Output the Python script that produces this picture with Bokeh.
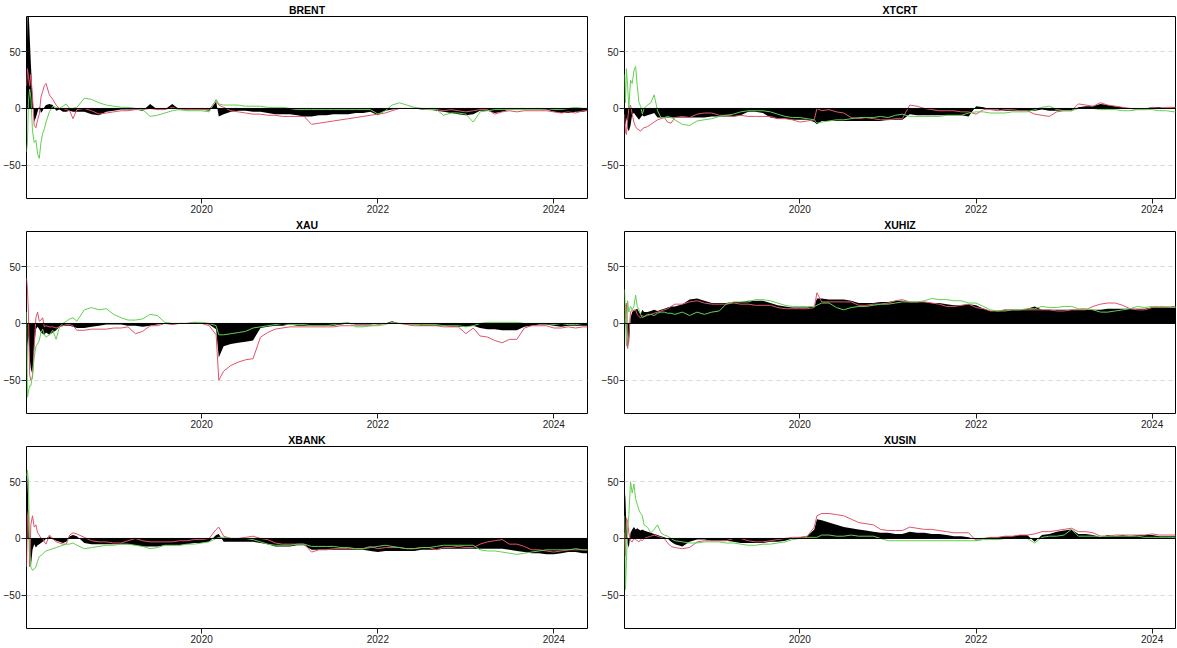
import pandas as pd
from bokeh.plotting import figure
from bokeh.layouts import gridplot
from bokeh.models import FixedTicker, DatetimeTickFormatter, Range1d, Span
from bokeh.embed import file_html
from bokeh.resources import INLINE

dates = [
    "2018-01-04", "2018-01-08", "2018-01-12", "2018-01-17", "2018-01-22", "2018-01-29",
    "2018-02-05", "2018-02-12", "2018-02-19", "2018-02-26", "2018-03-05", "2018-03-12",
    "2018-03-19", "2018-03-26", "2018-04-09", "2018-04-23", "2018-05-07", "2018-05-21",
    "2018-06-04", "2018-06-18", "2018-07-02", "2018-07-16",
    "2018-08-01", "2018-09-01", "2018-10-01", "2018-11-01", "2018-12-01",
    "2019-01-01", "2019-02-01", "2019-03-01", "2019-04-01", "2019-05-01", "2019-06-01",
    "2019-07-01", "2019-08-01", "2019-09-01", "2019-10-01", "2019-11-01", "2019-12-01",
    "2020-01-01", "2020-02-01", "2020-03-01", "2020-03-12", "2020-04-01", "2020-05-01",
    "2020-06-01", "2020-07-01", "2020-08-01", "2020-09-01", "2020-10-01", "2020-11-01",
    "2020-12-01",
    "2021-01-01", "2021-02-01", "2021-03-01", "2021-04-01", "2021-05-01", "2021-06-01",
    "2021-07-01", "2021-08-01", "2021-09-01", "2021-10-01", "2021-11-01", "2021-12-01",
    "2022-01-01", "2022-02-01", "2022-03-01", "2022-04-01", "2022-05-01", "2022-06-01",
    "2022-07-01", "2022-08-01", "2022-09-01", "2022-10-01", "2022-11-01", "2022-12-01",
    "2023-01-01", "2023-02-01", "2023-03-01", "2023-04-01", "2023-05-01", "2023-06-01",
    "2023-07-01", "2023-08-01", "2023-09-01", "2023-10-01", "2023-11-01", "2023-12-01",
    "2024-01-01", "2024-02-01", "2024-03-01", "2024-04-01", "2024-05-01", "2024-05-20",
]

titles = ["BRENT", "XTCRT", "XAU", "XUHIZ", "XBANK", "XUSIN"]
x_ticks = ["2020-01-01", "2022-01-01", "2024-01-01"]
y_ticks = [-50, 0, 50]

brent_net = [30, 85, 90, 65, 40, 10, -12, -8, -3, 2, -4, -2, 1, 3, 4, 3, -2, -1, -3, -3, -2, -3,
             -3, -3, -5, -6, -3,
             -2, -1, -1, -1, -2, 4, -1, -1, 4, -1, -1, -1,
             -1, -2, 6, -7, -5, -3, -2, -2, -3, -3, -4, -5, -5,
             -5, -6, -7, -7, -6, -6, -5, -5, -5, -4, -4, -3,
             -6, -2, -1, 0, 0, 0, -1, -1, -2, -3, -4, -5,
             -6, -5, -2, -2, -4, -3, -1, -1, -1, -1, -1, -1,
             -3, -4, -4, -3, -3, -2]
brent_red = [20, 35, 28, 20, 30, 10, -15, -17, -10, -5, 10, 15, 20, 22, 12, 8, 3, 0, 0, -1, -2, -9,
             -1, 0, -2, -5, -4,
             -3, -2, -2, -1, -1, 0, -1, -1, 1, -1, -1, -1,
             -1, -1, 7, 3, 1, -2, -3, -4, -5, -5, -6, -6, -7,
             -7, -7, -7, -14, -13, -12, -11, -10, -9, -8, -7, -6,
             -5, -4, -2, 0, 0, 0, 0, -1, -1, -2, -1, -2,
             -3, -2, -1, -1, -5, -3, -2, -3, -2, -2, -2, -2,
             -3, -4, -3, -4, -2, -2]
brent_green = [-38, -30, 5, 17, 10, -20, -30, -28, -40, -44, -30, -22, -18, -12, -3, 2, 1, 0, 2, 4, 0, 0,
               1, 9, 8, 5, 3,
               2, 1, 1, 0, -1, -7, -6, -4, -2, -1, -2, -2,
               -2, -3, 8, 4, 3, 3, 3, 2, 2, 2, 1, 1, 1,
               0, -1, -1, -1, -1, -1, -1, -1, -1, -1, -1, -1,
               -5, -2, 3, 5, 3, 1, 0, -1, -1, -6, -4, -4,
               -5, -12, -3, -2, -1, -1, -1, -1, -1, -1, -1, 0,
               -1, -1, 0, 1, 0, 0]

xtcrt_net = [-10, -15, -8, -18, -20, -15, -5, -4, -6, -8, -10, -8, -6, -7, -6, -5, -4, -8, -8, -8, -8, -8,
             -8, -8, -8, -8, -8,
             -7, -7, -7, -7, -6, -3, -3, -4, -8, -9, -9, -10,
             -10, -10, -12, -14, -11, -11, -11, -11, -11, -11, -11, -11, -11,
             -10, -10, -10, -5, -6, -6, -6, -6, -6, -6, -6, -7,
             2, 1, -1, -1, -2, -2, -2, -2, -2, -1, -2, -2,
             -2, -2, 1, 2, 2, 4, 3, 2, 1, 0, 0, 0,
             1, 1, 0, 1, 0, 0]
xtcrt_red = [-5, -20, -23, -10, 0, 3, -5, -12, -16, -18, -19, -20, -18, -17, -16, -14, -12, -10, -9, -8, -12, -13,
             -8, -7, -8, -5, -4,
             -4, -6, -6, -7, -6, -7, -7, -7, -7, -9, -9, -10,
             -12, -11, -10, 0, -2, -1, -3, -4, -8, -9, -8, -9, -10,
             -10, -9, -9, 3, 2, 0, -1, -2, -2, -2, -3, -3,
             -5, -1, -1, -2, -1, -1, -2, -2, -5, -6, -7, -3,
             -2, -2, 4, 3, 2, 5, 3, 2, 1, 0, -1, -1,
             1, 0, 1, 1, 1, 1]
xtcrt_green = [30, 5, 35, 20, 0, 25, 22, 33, 37, 20, 5, 2, -5, 0, 3, 5, 12, -2, -8, -8, -7, -8,
               -10, -14, -15, -11, -10,
               -9, -7, -6, -5, -3, -2, -2, -2, -3, -5, -7, -8,
               -8, -9, -10, -13, -12, -11, -10, -10, -9, -8, -8, -8, -7,
               -8, -6, -5, -7, -7, -7, -7, -7, -6, -6, -6, -4,
               -3, -3, -4, -4, -4, -3, -3, -3, -1, 1, 2, -1,
               -2, -2, 0, 0, 0, -1, -1, -1, -2, -2, -1, -1,
               -1, -2, -2, -3, -3, -3]

xau_net = [-60, -20, -10, -30, -40, -45, -20, -5, -3, -5, -8, -9, -10, -8, -10, -8, -6, -3, -2, -2, -2, -3,
           -4, -4, -3, -2, -1,
           -1, -1, -2, -2, -3, -2, -1, 0, -1, 0, 0, 1,
           0, -1, -5, -30, -20, -18, -17, -16, -15, -4, -3, -2, -2,
           -1, -2, -2, -2, -2, -2, -2, -1, 0, -1, -1, -1,
           0, 0, 2, 0, -1, -1, -2, -2, -2, -2, -3, -3,
           -3, -2, -4, -5, -5, -6, -6, -6, -3, -2, -1, -1,
           -2, -3, -2, -2, -2, -2]
xau_red = [40, 30, 10, -45, -50, -48, -20, 5, 10, 2, 3, 5, -3, -2, -3, -3, -4, -3, -2, -1, -1, -2,
           -6, -6, -5, -5, -5,
           -4, -4, -3, -9, -7, -2, -2, 0, -1, 0, 0, 1,
           0, -2, -10, -50, -42, -37, -34, -32, -31, -12, -8, -5, -4,
           -3, -3, -3, -3, -3, -3, -3, -2, -2, -2, -2, -2,
           -1, 0, 0, 0, -1, -2, -2, -2, -2, -3, -3, -3,
           -9, -4, -11, -12, -15, -17, -14, -14, -4, -2, -2, -2,
           -4, -4, -3, -4, -3, -3]
xau_green = [10, -65, -60, -55, -55, -45, -30, -20, -18, -15, -8, -5, -10, -12, -10, -6, -14, -3, 0, 2, 4, 5,
             2, 12, 14, 12, 13,
             8, 5, 3, 3, 4, 8, 7, 1, 0, 0, 0, 1,
             1, 0, -2, -10, -10, -9, -8, -7, -4, -3, -2, -1, 0,
             -1, -1, -1, -2, -2, -2, -1, 0, 1, -3, -3, -2,
             -2, -1, 1, 0, 0, -1, -1, -1, -1, -2, -2, -2,
             -3, -2, 0, 1, 1, 1, 1, 1, 0, 0, 0, 0,
             -1, 0, -1, -1, 0, 0]

xuhiz_net = [20, 10, -5, -10, -20, 5, 10, 12, 12, 13, 10, 8, 12, 10, 10, 11, 12, 11, 12, 13, 14, 15,
             15, 17, 21, 22, 20,
             18, 18, 18, 19, 19, 20, 20, 20, 18, 16, 15, 14,
             14, 14, 15, 22, 22, 21, 21, 21, 20, 18, 18, 18, 19,
             19, 20, 20, 19, 19, 19, 18, 18, 17, 16, 16, 17,
             16, 13, 11, 11, 12, 12, 12, 13, 15, 12, 12, 12,
             12, 12, 12, 12, 12, 12, 13, 13, 13, 13, 13, 13,
             14, 14, 14, 14, 14, 14]
xuhiz_red = [0, 15, 18, -22, -10, 10, 12, 11, 12, 8, 6, 5, 7, 6, 7, 8, 9, 10, 11, 12, 13, 15,
             17, 17, 19, 20, 18,
             17, 17, 17, 18, 17, 17, 16, 16, 16, 14, 13, 13,
             13, 13, 14, 27, 19, 19, 19, 19, 19, 16, 16, 17, 17,
             18, 20, 21, 19, 19, 19, 18, 17, 15, 15, 16, 17,
             14, 13, 11, 11, 12, 12, 12, 12, 12, 12, 12, 11,
             11, 12, 12, 12, 15, 17, 18, 18, 16, 13, 12, 12,
             14, 14, 14, 15, 14, 14]
xuhiz_green = [30, 5, -20, 20, 10, 15, 12, 15, 25, 15, 12, 8, 5, 6, 8, 8, 7, 9, 10, 10, 9, 9,
               8, 10, 7, 10, 8,
               10, 11, 17, 19, 19, 19, 21, 21, 20, 18, 16, 15,
               15, 15, 15, 16, 18, 18, 14, 12, 14, 15, 15, 16, 17,
               17, 18, 19, 19, 19, 20, 22, 21, 21, 20, 20, 18,
               18, 15, 12, 11, 11, 12, 12, 13, 13, 15, 14, 14,
               15, 15, 13, 13, 12, 10, 10, 11, 12, 13, 15, 14,
               15, 15, 15, 14, 14, 14]

xbank_net = [15, 60, 20, -20, -25, -10, -5, -8, -6, -5, -4, -3, -2, 0, 2, -1, -2, -3, -4, -3, 2, 3,
             2, -4, -5, -5, -5,
             -5, -5, -5, -6, -7, -7, -7, -6, -6, -6, -5, -4,
             -4, -3, 3, 4, -3, -3, -3, -3, -3, -4, -5, -7, -7,
             -7, -6, -6, -10, -10, -10, -10, -10, -10, -10, -10, -11,
             -12, -11, -11, -11, -11, -11, -10, -10, -10, -9, -9, -9,
             -9, -9, -9, -9, -9, -9, -10, -11, -12, -13, -13, -14,
             -14, -13, -12, -12, -13, -13]
xbank_red = [-25, 20, 25, -25, 12, 20, 10, 12, 5, 3, 0, 0, -3, -5, 3, 0, -3, -4, -5, -5, 3, 5,
             4, 1, -2, -3, -3,
             -4, -4, -2, 0, -2, -3, -3, -3, -3, -2, -2, -1,
             -1, 0, 8, 10, 2, 0, 0, 1, 2, 0, -1, -4, -5,
             -5, -5, -5, -12, -10, -10, -9, -9, -9, -9, -9, -7,
             -9, -8, -8, -8, -9, -9, -8, -8, -10, -8, -8, -7,
             -8, -8, -5, -3, -2, -1, -5, -5, -7, -10, -10, -11,
             -12, -11, -10, -10, -10, -10]
xbank_green = [55, 60, 50, -10, -25, -28, -27, -25, -20, -16, -15, -14, -12, -11, -10, -9, -8, -7, -6, -5, -5, -4,
               -6, -9, -8, -7, -6,
               -6, -5, -5, -6, -7, -9, -8, -6, -6, -6, -5, -5,
               -4, -3, 0, 1, 1, 0, 0, 0, -1, -3, -5, -6, -6,
               -6, -5, -5, -7, -7, -7, -7, -8, -8, -9, -9, -8,
               -7, -6, -7, -8, -9, -9, -8, -8, -7, -6, -6, -6,
               -6, -6, -10, -11, -11, -12, -13, -14, -13, -12, -11, -10,
               -10, -10, -10, -9, -10, -10]

xusin_net = [45, 35, 10, -5, -8, 5, 8, 10, 8, 9, 8, 7, 8, 7, 6, 5, 4, 3, 2, 1, 0, -3,
             -5, -7, -3, -1, -1,
             -2, -2, -2, -3, -4, -4, -4, -4, -3, -3, -2, 0,
             1, 2, 8, 17, 16, 14, 12, 10, 9, 8, 7, 6, 5,
             5, 4, 4, 6, 5, 5, 4, 4, 3, 2, 2, 1,
             -1, 0, 1, 1, 2, 2, 3, 3, -3, 3, 4, 6,
             7, 8, 4, 4, 3, 1, 3, 2, 3, 2, 3, 3,
             3, 2, 2, 2, 2, 2]
xusin_red = [5, -15, 18, 15, 5, -2, -3, 0, -1, -2, -3, -1, -2, 0, 1, 2, 3, 2, 1, 0, -4, -7,
             -8, -9, -8, -3, -2,
             -2, -2, -2, 0, 0, -2, -3, -3, -2, -1, 0, 1,
             1, 2, 10, 20, 22, 22, 21, 20, 17, 14, 13, 12, 8,
             7, 7, 7, 10, 9, 8, 8, 7, 6, 5, 5, 5,
             -2, 0, 1, 1, 2, 2, 3, 3, 4, 6, 6, 7,
             8, 9, 6, 6, 5, 2, 2, 3, 3, 3, 3, 3,
             4, 3, 3, 3, 3, 3]
xusin_green = [20, -45, -20, 10, 20, 50, 40, 48, 35, 30, 25, 22, 20, 12, 10, 5, 8, 12, 5, 3, 2, 0,
               -2, -3, -4, -4, -3,
               -3, -3, -4, -4, -5, -6, -6, -5, -5, -4, -3, -1,
               0, 1, 1, 1, 3, 3, 2, 2, 3, 2, 2, 2, 0,
               -2, -2, -2, -2, -2, -2, -2, -2, -2, -2, -2, -2,
               -2, -1, -1, -1, 0, 0, 0, 0, -4, 1, 2, 2,
               3, 8, 2, 2, 2, 2, 2, 2, 2, 2, 2, 1,
               1, 1, 1, 1, 1, 1]

panels = [
    (titles[0], brent_net, brent_red, brent_green),
    (titles[1], xtcrt_net, xtcrt_red, xtcrt_green),
    (titles[2], xau_net, xau_red, xau_green),
    (titles[3], xuhiz_net, xuhiz_red, xuhiz_green),
    (titles[4], xbank_net, xbank_red, xbank_green),
    (titles[5], xusin_net, xusin_red, xusin_green),
]
for t, a, b, c in panels:
    for arr in (a, b, c):
        if len(arr) != len(dates):
            raise ValueError(f"{t}: {len(arr)} != {len(dates)}")

x = pd.to_datetime(dates)
tick_ms = [pd.Timestamp(d).value // 10**6 for d in x_ticks]
FONT = "Liberation Sans"


def make(title, net, red, green, col):
    if col == 0:
        width, bl, br, xend = 598, 25, 11, "2024-05-20"
    else:
        width, bl, br, xend = 578, 25, 1, "2024-04-07"
    p = figure(width=width, height=215, x_axis_type="datetime",
               output_backend="svg", toolbar_location=None,
               x_range=Range1d(pd.Timestamp("2018-01-04"), pd.Timestamp(xend)),
               y_range=Range1d(-79.3, 81),
               min_border_left=bl, min_border_right=br,
               min_border_top=13, min_border_bottom=16, title=title)
    p.title.align = "center"
    p.title.text_font = FONT
    p.title.text_font_size = "10.5px"
    p.title.text_font_style = "bold"
    p.title.text_color = "black"
    p.title.text_line_height = 0.9
    p.title.standoff = 2
    p.title.offset = 0
    p.background_fill_color = "white"
    p.border_fill_color = "white"
    p.outline_line_color = "black"
    p.outline_line_width = 1
    p.outline_line_alpha = 1

    p.xgrid.visible = False
    p.ygrid.ticker = FixedTicker(ticks=[-50, 50])
    p.ygrid.grid_line_color = "#d6d6d6"
    p.ygrid.grid_line_dash = "4 4"
    p.ygrid.grid_line_width = 1

    p.varea(x=x, y1=0, y2=net, fill_color="black", fill_alpha=1)
    p.line(x, red, line_color="#DF536B", line_width=1)
    p.line(x, green, line_color="#61D04F", line_width=1)
    p.add_layout(Span(location=0, dimension="width", line_color="black", line_width=1))

    p.xaxis.ticker = FixedTicker(ticks=tick_ms)
    p.xaxis.formatter = DatetimeTickFormatter(years="%Y", months="%Y", days="%Y")
    p.yaxis.ticker = FixedTicker(ticks=y_ticks)
    for ax in (p.xaxis[0], p.yaxis[0]):
        ax.axis_line_color = None
        ax.major_tick_in = 0
        ax.major_tick_out = 5
        ax.major_tick_line_color = "#222222"
        ax.minor_tick_line_color = None
        ax.major_label_text_font = FONT
        ax.major_label_text_font_size = "10px"
        ax.major_label_text_color = "#222222"
        ax.major_label_standoff = 1
    return p


figs = [make(t, a, b, c, i % 2) for i, (t, a, b, c) in enumerate(panels)]
grid = gridplot([[figs[0], figs[1]], [figs[2], figs[3]], [figs[4], figs[5]]],
                toolbar_location=None)

open("out.html", "w").write(file_html(grid, INLINE))
